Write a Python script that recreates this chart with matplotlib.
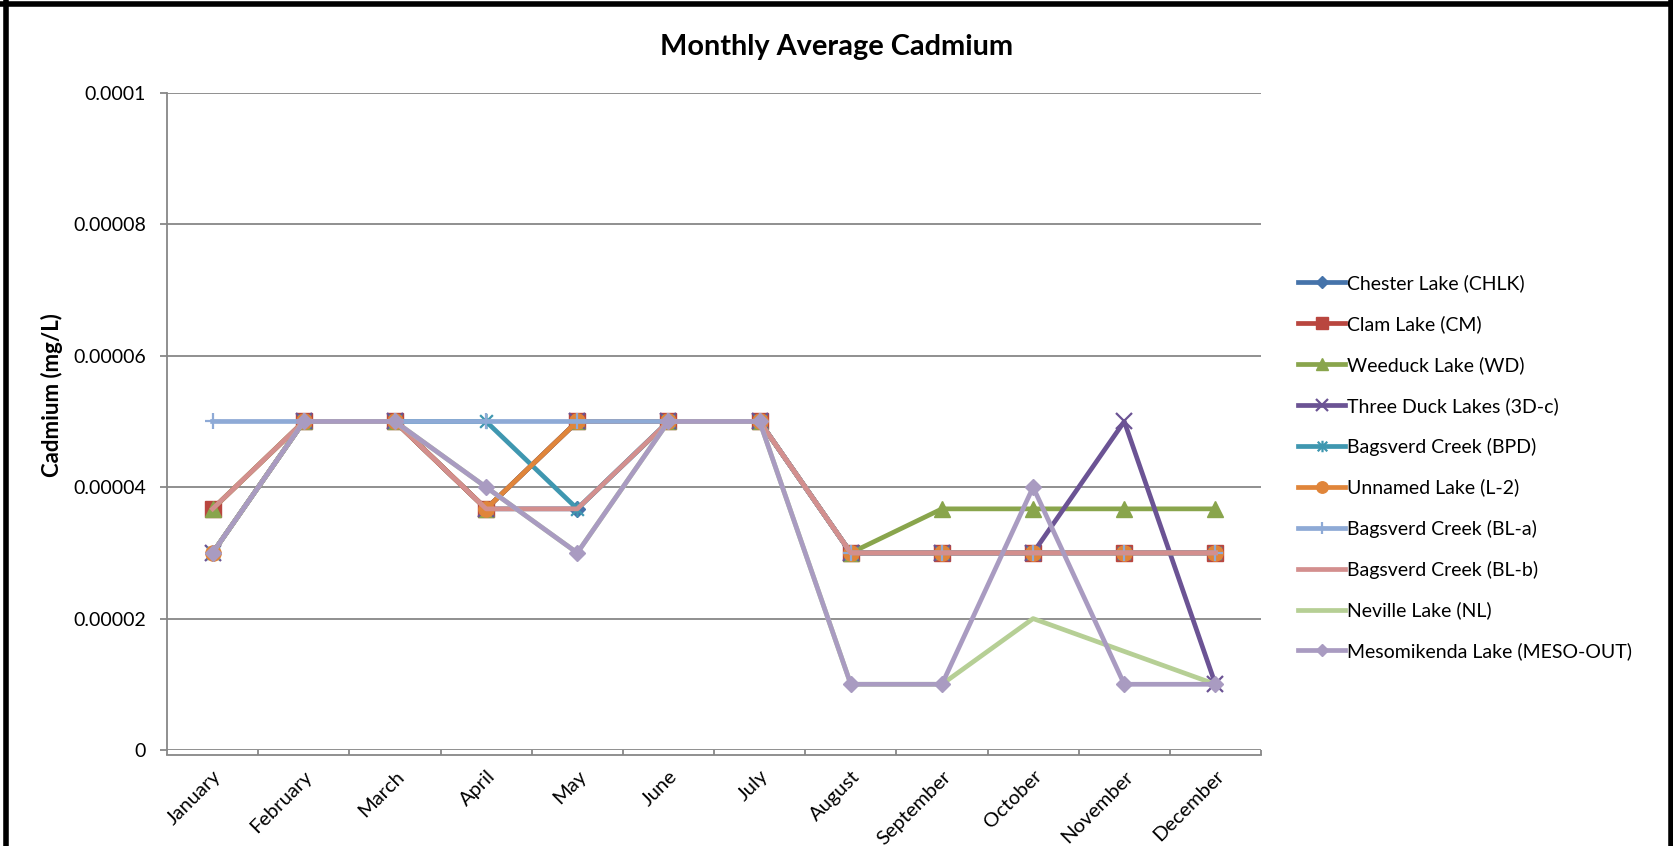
import numpy as np
import matplotlib.pyplot as plt
from matplotlib.path import Path
from matplotlib.lines import Line2D

# monthly cadmium averages (mg/L) per station
months = ['January', 'February', 'March', 'April', 'May', 'June',
          'July', 'August', 'September', 'October', 'November', 'December']

chlk = [0.00003, 0.00005, 0.00005, 0.0000367, 0.0000367, 0.00005,
        0.00005, 0.00003, 0.00003, 0.00003, 0.00003, 0.00003]
cm = [0.0000367, 0.00005, 0.00005, 0.0000367, 0.00005, 0.00005,
      0.00005, 0.00003, 0.00003, 0.00003, 0.00003, 0.00003]
wd = [0.0000367, 0.00005, 0.00005, 0.0000367, 0.00005, 0.00005,
      0.00005, 0.00003, 0.0000367, 0.0000367, 0.0000367, 0.0000367]
three_d = [0.00003, 0.00005, 0.00005, 0.0000367, 0.00005, 0.00005,
           0.00005, 0.00003, 0.00003, 0.00003, 0.00005, 0.00001]
bpd = [0.00003, 0.00005, 0.00005, 0.00005, 0.0000367, 0.00005,
       0.00005, 0.00003, 0.00003, 0.00003, 0.00003, 0.00003]
l2 = [0.00003, 0.00005, 0.00005, 0.0000367, 0.00005, 0.00005,
      0.00005, 0.00003, 0.00003, 0.00003, 0.00003, 0.00003]
bl_a = [0.00005, 0.00005, 0.00005, 0.00005, 0.00005, 0.00005,
        0.00005, 0.00003, 0.00003, 0.00003, 0.00003, 0.00003]
bl_b = [0.0000367, 0.00005, 0.00005, 0.0000367, 0.0000367, 0.00005,
        0.00005, 0.00003, 0.00003, 0.00003, 0.00003, 0.00003]
nl = [0.00003, 0.00005, 0.00005, 0.00004, 0.00003, 0.00005,
      0.00005, 0.00001, 0.00001, 0.00002, 0.000015, 0.00001]
meso = [0.00003, 0.00005, 0.00005, 0.00004, 0.00003, 0.00005,
        0.00005, 0.00001, 0.00001, 0.00004, 0.00001, 0.00001]

names = ['Chester Lake (CHLK)', 'Clam Lake (CM)', 'Weeduck Lake (WD)',
         'Three Duck Lakes (3D-c)', 'Bagsverd Creek (BPD)', 'Unnamed Lake (L-2)',
         'Bagsverd Creek (BL-a)', 'Bagsverd Creek (BL-b)', 'Neville Lake (NL)',
         'Mesomikenda Lake (MESO-OUT)']
series = [chlk, cm, wd, three_d, bpd, l2, bl_a, bl_b, nl, meso]

yticks = [0, 0.00002, 0.00004, 0.00006, 0.00008, 0.0001]
ytick_labels = ['0', '0.00002', '0.00004', '0.00006', '0.00008', '0.0001']

# star marker: an X with a vertical stroke through it
star = Path([(-1, -1), (1, 1), (-1, 1), (1, -1), (0, -1.2), (0, 1.2)],
            [Path.MOVETO, Path.LINETO, Path.MOVETO, Path.LINETO, Path.MOVETO, Path.LINETO])

styles = [
    dict(color='#4573aa', marker='D', ms=8.5),
    dict(color='#b9463f', marker='s', ms=11),
    dict(color='#89a54c', marker='^', ms=11),
    dict(color='#6b5394', marker='x', ms=11, mew=1.6),
    dict(color='#3f97b0', marker=star, ms=11, mew=1.6),
    dict(color='#e0853a', marker='o', ms=11),
    dict(color='#8eaad6', marker='+', ms=12, mew=1.6),
    dict(color='#d38f8e', marker='None'),
    dict(color='#b6cf95', marker='None'),
    dict(color='#a99bc1', marker='D', ms=8.5),
]

plt.rcParams['font.family'] = ['Lato', 'DejaVu Sans']

fig = plt.figure(figsize=(16.74, 8.46), dpi=100)
ax = fig.add_axes([0.0998, 0.1135, 0.6535, 0.7766])

# spine offset first: moving a spine rebuilds the tick objects
for s in ['top', 'right']:
    ax.spines[s].set_visible(False)
for s in ['left', 'bottom']:
    ax.spines[s].set_color('#878787')
    ax.spines[s].set_linewidth(1.3)
ax.spines['bottom'].set_position(('outward', 3.6))

x = np.arange(len(months))
for vals, name, st in zip(series, names, styles):
    ax.plot(x, vals, lw=3.4, label=name, solid_joinstyle='round', **st)

ax.set_xlim(-0.5, 11.5)
ax.set_ylim(0, 0.0001)
ax.yaxis.grid(True, color='#878787', lw=1.3)
ax.set_axisbelow(True)

ax.tick_params(axis='x', which='major', direction='in', length=3.6,
               color='#878787', width=1.3)
ax.tick_params(axis='x', which='minor', length=0, pad=9)
ax.tick_params(axis='y', length=5, color='#878787', width=1.3, pad=10)

ax.set_yticks(yticks)
ax.set_yticklabels(ytick_labels, fontsize=14)
# category boundaries get the tick marks, month names sit in between
ax.set_xticks(np.arange(-0.5, 12, 1))
ax.set_xticklabels([])
ax.set_xticks(x, minor=True)
ax.set_xticklabels(months, minor=True, rotation=45, ha='right', va='top',
                   rotation_mode='anchor', fontsize=14.5)

fig.text(0.5, 0.945, 'Monthly Average Cadmium', ha='center', va='center',
         fontsize=20.8, fontweight='bold')
fig.text(0.031, 0.533, 'Cadmium (mg/L)', rotation=90, ha='center', va='center',
         fontsize=16, fontweight='bold')

ax.legend(loc='upper left', bbox_to_anchor=(0.771, 0.685), bbox_transform=fig.transFigure,
          frameon=False, fontsize=14, handlelength=2.4, handletextpad=0.1,
          labelspacing=1.18, markerscale=0.75, borderaxespad=0)

# black frame along the top and sides
for xs, ys in [([0, 1], [0.9958, 0.9958]), ([0.0036, 0.0036], [0, 1]), ([0.9985, 0.9985], [0, 1])]:
    fig.add_artist(Line2D(xs, ys, color='black', lw=4, transform=fig.transFigure))

fig.savefig('out.png', dpi=100)
